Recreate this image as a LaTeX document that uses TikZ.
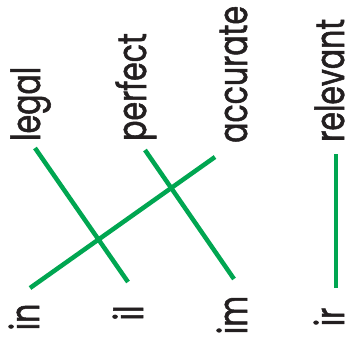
\documentclass[tikz,border=0pt]{standalone}
\usepackage{fontspec}
\usepackage{tikz}
\usetikzlibrary{positioning}
\newfontfamily\wordfont[FakeStretch=0.75,FakeBold=1.3]{Poppins}
\definecolor{matchgreen}{RGB}{0,166,81}
\definecolor{inkgrey}{RGB}{35,31,32}

\begin{document}
\begin{tikzpicture}[x=1pt,y=1pt,
  stemword/.style={rotate=90,anchor=base west,inner sep=0pt,text=inkgrey,
    font=\wordfont\fontsize{40}{40}\selectfont},
  prefixword/.style={rotate=90,anchor=base,inner sep=0pt,text=inkgrey,
    font=\wordfont\fontsize{40}{40}\selectfont},
  match/.style={draw=matchgreen,line width=4.5pt}]
\useasboundingbox (0,0) rectangle (350,-349);
% word stems along the top
\node[stemword] (legal) at (40,-141) {legal};
\node[stemword] (perfect) at (146,-141) {perfect};
\node[stemword] (accurate) at (247,-143) {accurate};
\node[stemword] (relevant) at (344,-142) {relevant};
% prefixes along the bottom
\node[prefixword] (in) at (39,-317) {in};
\node[prefixword] (il) at (143,-313) {il};
\node[prefixword] (im) at (247,-315) {im};
\node[prefixword] (ir) at (344,-317) {ir};
% line ends
\coordinate (legal-end) at (35,-148);
\coordinate (perfect-end) at (145,-150);
\coordinate (accurate-end) at (215,-157);
\coordinate (relevant-end) at (336,-154);
\coordinate (in-end) at (30,-288);
\coordinate (il-end) at (128,-282);
\coordinate (im-end) at (234,-279);
\coordinate (ir-end) at (336,-288);
% matching lines
\draw[match] (in-end) -- (accurate-end);
\draw[match] (legal-end) -- (il-end);
\draw[match] (perfect-end) -- (im-end);
\draw[match] (ir-end) -- (relevant-end);
\end{tikzpicture}
\end{document}
